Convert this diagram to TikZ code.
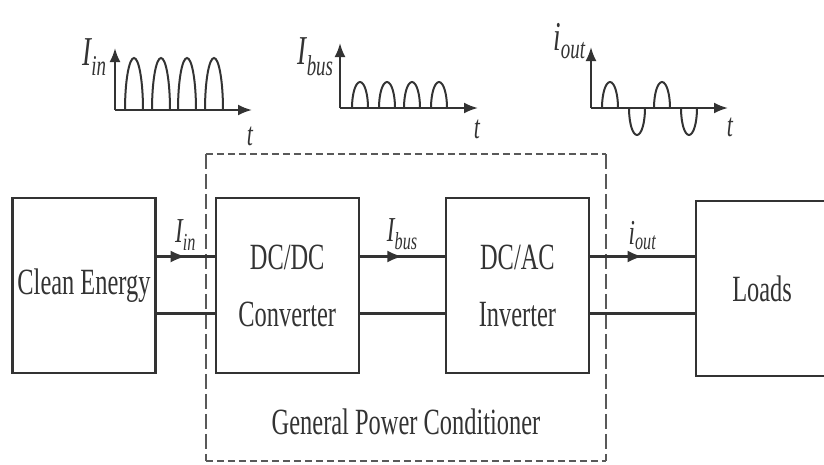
\documentclass[tikz,border=0pt]{standalone}
\usepackage{fontspec}
\setmainfont[FakeStretch=0.66]{Liberation Serif}
\usetikzlibrary{arrows.meta,positioning,decorations.markings}

\begin{document}
\begin{tikzpicture}[
        x=1pt, y=1pt,
        >=Latex,
        color=black!80,
        line width=2.2pt,
        box/.style={
            draw,
            align=center,
            inner sep=0pt,
            minimum width=143pt,
            minimum height=175pt,
            font=\fontsize{37}{57}\selectfont
        },
        condbox/.style={
            minimum width=398pt,
            minimum height=305pt
        },
        hdash/.style={draw=black!65, line width=2.6pt, dash pattern=on 7pt off 4pt},
        vdash/.style={draw=black!65, line width=1.8pt, dash pattern=on 15pt off 5pt},
        flow/.style={
            postaction={decorate},
            decoration={markings,
                mark=at position 0.5 with {\arrow{Latex[length=15pt,width=12pt]}}}
        },
        axis/.style={-{Latex[length=14pt,width=11pt]}},
        wave/.style={line width=2pt},
        cur/.style={font=\fontsize{35}{37}\selectfont\itshape},
        wlabel/.style={font=\fontsize{41}{44}\selectfont\itshape},
        tlabel/.style={font=\fontsize{33}{34}\selectfont\itshape}
    ]
        \useasboundingbox (0,0) rectangle (824,-464);

        \node[condbox] (cond) at (406,-307.5) {};
        \draw[hdash] (cond.north west) -- (cond.north east);
        \draw[hdash] (cond.south west) -- (cond.south east);
        \draw[vdash] (cond.north west) -- (cond.south west);
        \draw[vdash] (cond.north east) -- (cond.south east);
        \node[anchor=base, font=\fontsize{37}{40}\selectfont] (condlabel) at ([yshift=27pt]cond.south) {General Power Conditioner};

        \node[box] (clean) at (84,-285.5) {Clean Energy};
        \node[box, right=58pt of clean] (dcdc) {DC/DC\\Converter};
        \node[box, right=85pt of dcdc] (dcac) {DC/AC\\Inverter};
        \node[box, minimum width=132pt, right=105pt of dcac, yshift=-3pt] (loads) {Loads};

        \draw[flow] ([yshift=29pt]clean.east) -- ([yshift=29pt]dcdc.west)
            node[cur, midway, above=2pt] (iin) {I\textsubscript{in}};
        \draw ([yshift=-28pt]clean.east) -- ([yshift=-28pt]dcdc.west);
        \draw[flow] ([yshift=29pt]dcdc.east) -- ([yshift=29pt]dcac.west)
            node[cur, midway, above=2pt] (ibus) {I\textsubscript{bus}};
        \draw ([yshift=-28pt]dcdc.east) -- ([yshift=-28pt]dcac.west);
        \draw[flow] ([yshift=29pt]dcac.east) -- ([yshift=29pt]dcac.east -| loads.west)
            node[cur, midway, above=2pt] (iout) {i\textsubscript{out}};
        \draw ([yshift=-28pt]dcac.east) -- ([yshift=-28pt]dcac.east -| loads.west);

        \coordinate (oin) at (115,-110);
        \draw[axis] (oin) -- ++(0,62);
        \draw[axis] (oin) -- ++(137,0);
        \foreach \dx in {10,37,63,90}
            \draw[wave] ([xshift=\dx pt]oin) arc[start angle=180, end angle=0, x radius=9pt, y radius=52pt];
        \node[wlabel, anchor=east] (lin) at (111,-57) {I\textsubscript{in}};
        \node[tlabel] (tin) at (250,-136) {t};

        \coordinate (obus) at (340,-108);
        \draw[axis] (obus) -- ++(0,65);
        \draw[axis] (obus) -- ++(138,0);
        \foreach \dx in {12,39,64,91}
            \draw[wave] ([xshift=\dx pt]obus) arc[start angle=180, end angle=0, x radius=8pt, y radius=26pt];
        \node[wlabel, anchor=east] (lbus) at (338,-57) {I\textsubscript{bus}};
        \node[tlabel] (tbus) at (477,-129) {t};

        \coordinate (oout) at (591,-108);
        \draw[axis] (oout) -- ++(0,61);
        \draw[axis] (oout) -- ++(137,0);
        \foreach \dx in {11,63}
            \draw[wave] ([xshift=\dx pt]oout) arc[start angle=180, end angle=0, x radius=8pt, y radius=26pt];
        \foreach \dx in {38,90}
            \draw[wave] ([xshift=\dx pt]oout) arc[start angle=180, end angle=360, x radius=8pt, y radius=27pt];
        \node[wlabel, anchor=east] (lout) at (590,-41) {i\textsubscript{out}};
        \node[tlabel] (tout) at (730,-127) {t};
    \end{tikzpicture}
\end{document}
